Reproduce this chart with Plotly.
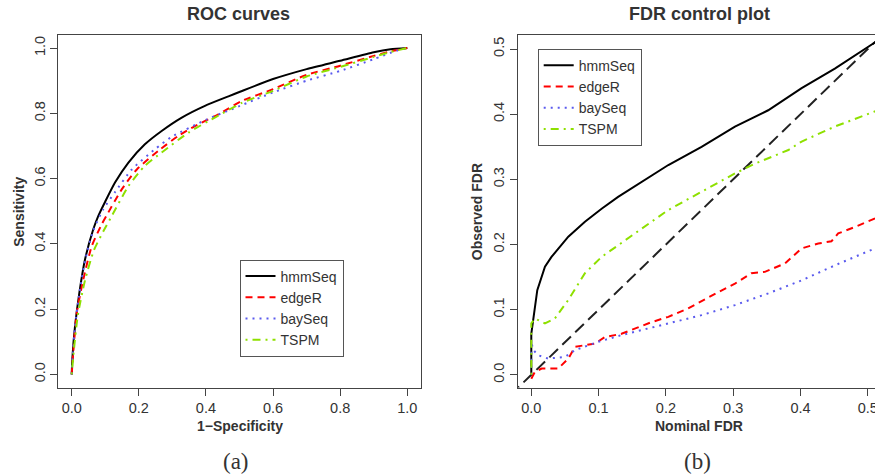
import plotly.graph_objects as go

# ---------------- ROC curves data ----------------
roc_hmm_x = [0, 0.002, 0.0098, 0.0227, 0.0396, 0.064, 0.079, 0.1, 0.129, 0.169, 0.218, 0.268, 0.328, 0.397, 0.467, 0.5015, 0.6, 0.7, 0.8, 0.9, 0.95, 1.0]
roc_hmm_y = [0, 0.05, 0.147, 0.25, 0.352, 0.444, 0.485, 0.53, 0.588, 0.649, 0.705, 0.746, 0.787, 0.823, 0.852, 0.866, 0.905, 0.9355, 0.961, 0.987, 0.996, 1.0]

roc_edge_x = [0, 0.004, 0.0149, 0.0346, 0.0596, 0.0894, 0.104, 0.149, 0.194, 0.258, 0.318, 0.367, 0.437, 0.507, 0.6, 0.7, 0.8, 0.9, 0.95, 1.0]
roc_edge_y = [0, 0.06, 0.188, 0.291, 0.393, 0.46, 0.487, 0.567, 0.628, 0.685, 0.731, 0.761, 0.797, 0.838, 0.874, 0.918, 0.946, 0.976, 0.99, 1.0]

roc_bay_x = [0, 0.003, 0.01, 0.023, 0.04, 0.064, 0.094, 0.13, 0.179, 0.248, 0.298, 0.4, 0.5015, 0.6, 0.7, 0.8, 0.9, 0.968, 1.0]
roc_bay_y = [0, 0.06, 0.15, 0.25, 0.35, 0.44, 0.506, 0.56, 0.628, 0.69, 0.728, 0.78, 0.823, 0.864, 0.9, 0.93, 0.966, 0.992, 1.0]

roc_tspm_x = [0, 0.005, 0.018, 0.04, 0.066, 0.095, 0.119, 0.169, 0.218, 0.268, 0.348, 0.437, 0.507, 0.6, 0.7, 0.8, 0.9, 0.95, 1.0]
roc_tspm_y = [0, 0.06, 0.18, 0.29, 0.38, 0.44, 0.485, 0.577, 0.639, 0.68, 0.741, 0.793, 0.832, 0.869, 0.913, 0.942, 0.973, 0.988, 1.0]

# ---------------- FDR control data ----------------
fdr_hmm_x = [0, 0, 0.0089, 0.0203, 0.030, 0.055, 0.0797, 0.1045, 0.129, 0.154, 0.2036, 0.253, 0.3026, 0.352, 0.4017, 0.451, 0.5007, 0.515]
fdr_hmm_y = [0, 0.063, 0.13, 0.166, 0.181, 0.212, 0.235, 0.255, 0.273, 0.289, 0.322, 0.35, 0.381, 0.406, 0.44, 0.47, 0.5036, 0.513]

fdr_edge_x = [0, 0.0054, 0.0154, 0.040, 0.055, 0.065, 0.0946, 0.1095, 0.134, 0.179, 0.2036, 0.233, 0.278, 0.3026, 0.327, 0.347, 0.377, 0.4017, 0.4264, 0.446, 0.456, 0.481, 0.515]
fdr_edge_y = [-0.006, 0.0046, 0.0097, 0.0097, 0.025, 0.043, 0.048, 0.058, 0.063, 0.081, 0.089, 0.102, 0.127, 0.14, 0.156, 0.158, 0.171, 0.194, 0.2016, 0.205, 0.217, 0.227, 0.242]

fdr_bay_x = [0, 0, 0.003, 0.0104, 0.025, 0.05, 0.065, 0.0996, 0.134, 0.2036, 0.253, 0.3026, 0.352, 0.4017, 0.451, 0.515]
fdr_bay_y = [0, 0.05, 0.038, 0.03, 0.025, 0.0276, 0.038, 0.0507, 0.061, 0.079, 0.0916, 0.107, 0.125, 0.145, 0.168, 0.196]

fdr_tspm_x = [0, 0, 0, 0.0054, 0.0203, 0.035, 0.055, 0.0797, 0.1045, 0.154, 0.2036, 0.253, 0.3026, 0.332, 0.352, 0.382, 0.4017, 0.451, 0.515]
fdr_tspm_y = [0, 0.038, 0.079, 0.0865, 0.079, 0.0865, 0.115, 0.156, 0.181, 0.217, 0.253, 0.281, 0.309, 0.324, 0.332, 0.345, 0.358, 0.381, 0.406]

diag_xy = [-0.05, 0.6]

methods = ["hmmSeq", "edgeR", "baySeq", "TSPM"]
colors = ["#000000", "#ff0000", "#5a5aee", "#8ee000"]
dashes = ["solid", "7px,5px", "2px,5px", "2px,5px,8px,5px"]

FONT = "Liberation Sans, Arial, Helvetica, sans-serif"
SERIF = "Liberation Serif, DejaVu Serif, serif"

fig = go.Figure()

roc_data = [(roc_hmm_x, roc_hmm_y), (roc_edge_x, roc_edge_y), (roc_bay_x, roc_bay_y), (roc_tspm_x, roc_tspm_y)]
for (xs, ys), name, c, d in zip(roc_data, methods, colors, dashes):
    fig.add_trace(go.Scatter(x=xs, y=ys, mode="lines", name=name,
                             line=dict(color=c, width=2, dash=d, shape="spline", smoothing=0.6),
                             xaxis="x", yaxis="y", legend="legend"))

fig.add_trace(go.Scatter(x=diag_xy, y=diag_xy, mode="lines", showlegend=False,
                         line=dict(color="#222222", width=2, dash="12px,6px"),
                         xaxis="x2", yaxis="y2"))

fdr_data = [(fdr_hmm_x, fdr_hmm_y), (fdr_edge_x, fdr_edge_y), (fdr_bay_x, fdr_bay_y), (fdr_tspm_x, fdr_tspm_y)]
for (xs, ys), name, c, d in zip(fdr_data, methods, colors, dashes):
    fig.add_trace(go.Scatter(x=xs, y=ys, mode="lines", name=name,
                             line=dict(color=c, width=2, dash=d),
                             xaxis="x2", yaxis="y2", legend="legend2"))

axis_common = dict(showgrid=False, zeroline=False, showline=True, linecolor="#444444", linewidth=1,
                   mirror=True, ticks="outside", ticklen=7, tickcolor="#444444", tickwidth=1,
                   tickfont=dict(family=FONT, size=14.5, color="#333333"), tickformat=".1f",
                   ticklabeloverflow="allow", automargin=False)

ydom = [1 - 387.5 / 476, 1 - 35 / 476]

legend_common = dict(xanchor="left", yanchor="top", bordercolor="#555555", borderwidth=1,
                     bgcolor="white",
                     font=dict(family=FONT, size=14, color="#333333"))

fig.update_layout(
    width=875, height=476,
    margin=dict(l=0, r=0, t=0, b=0),
    paper_bgcolor="white", plot_bgcolor="white",
    xaxis=dict(domain=[58.3 / 875, 420.7 / 875], range=[-0.04, 1.04], anchor="y",
               tickvals=[0, 0.2, 0.4, 0.6, 0.8, 1.0], **axis_common),
    yaxis=dict(domain=ydom, range=[-0.04, 1.04], tickangle=-90, anchor="x",
               tickvals=[0, 0.2, 0.4, 0.6, 0.8, 1.0], **axis_common),
    xaxis2=dict(domain=[517.7 / 875, 1.0], range=[-0.0202, 0.5107], anchor="y2",
                tickvals=[0, 0.1, 0.2, 0.3, 0.4, 0.5], **axis_common),
    yaxis2=dict(domain=ydom, range=[-0.0194, 0.5215], tickangle=-90, anchor="x2",
                tickvals=[0, 0.1, 0.2, 0.3, 0.4, 0.5], **axis_common),
    legend=dict(x=239.5 / 875, y=1 - 259.5 / 476, **legend_common),
    legend2=dict(x=537.7 / 875, y=1 - 48.7 / 476, **legend_common),
)

annots = [
    dict(text="<b>ROC curves</b>", x=238.5 / 875, y=1 - 14 / 476, size=18, family=FONT, angle=0),
    dict(text="<b>FDR control plot</b>", x=699 / 875, y=1 - 14 / 476, size=18, family=FONT, angle=0),
    dict(text="<b>1\u2212Specificity</b>", x=240 / 875, y=1 - 426 / 476, size=14, family=FONT, angle=0),
    dict(text="<b>Nominal FDR</b>", x=699 / 875, y=1 - 426 / 476, size=14, family=FONT, angle=0),
    dict(text="<b>Sensitivity</b>", x=18.3 / 875, y=1 - 211.5 / 476, size=14, family=FONT, angle=-90),
    dict(text="<b>Observed FDR</b>", x=476.7 / 875, y=1 - 211.5 / 476, size=14, family=FONT, angle=-90),
    dict(text="(a)", x=235.5 / 875, y=1 - 461 / 476, size=23, family=SERIF, angle=0),
    dict(text="(b)", x=697 / 875, y=1 - 461 / 476, size=23, family=SERIF, angle=0),
]
for a in annots:
    fig.add_annotation(text=a["text"], x=a["x"], y=a["y"], xref="paper", yref="paper",
                       xanchor="center", yanchor="middle", showarrow=False, textangle=a["angle"],
                       font=dict(family=a["family"], size=a["size"], color="#333333"))

fig.write_html("out.html", config={"displayModeBar": False},
               post_script="document.body.style.margin='0';document.body.style.overflow='hidden';")
